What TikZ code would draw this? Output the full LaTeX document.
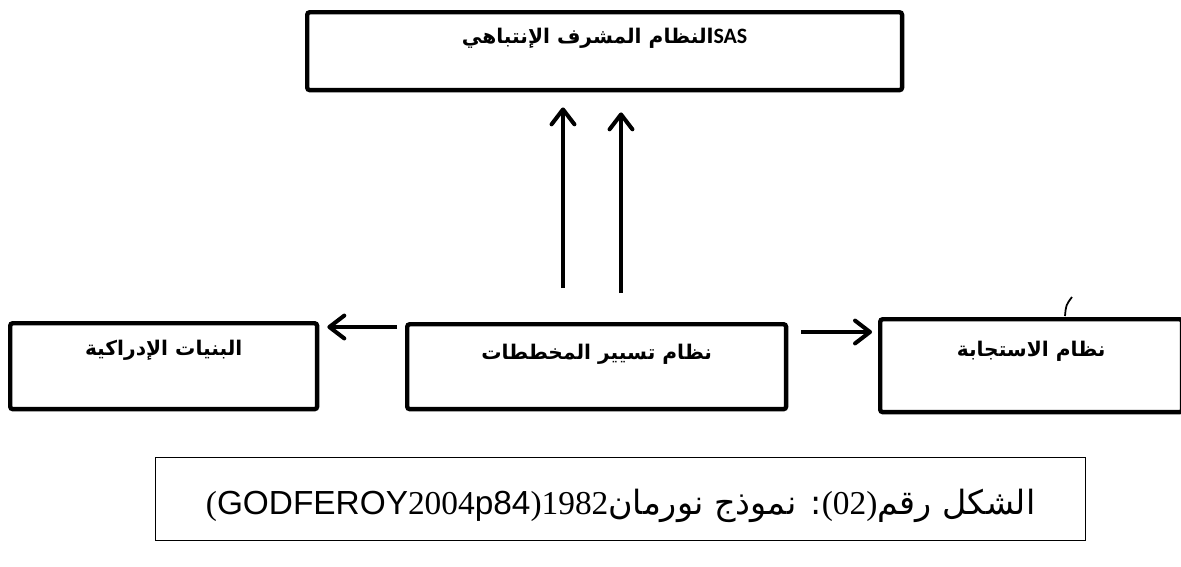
\documentclass[tikz,border=0pt]{standalone}
\usepackage{fontspec}
\setmainfont{Liberation Serif}
\newfontfamily\arabicfont[Script=Arabic]{DejaVu Sans}
\newfontfamily\sasfont{Carlito}
\newfontfamily\latinsans{Liberation Sans}
\TeXXeTstate=1
\usetikzlibrary{arrows.meta, positioning}

\begin{document}
\begin{tikzpicture}[
  x=0.02cm, y=-0.02cm,
  blk/.style={draw, line width=2.5pt, rounded corners=1.5pt, inner sep=0pt,
              anchor=north west, font=\arabicfont\bfseries\fontsize{11.5}{13}\selectfont},
  capbox/.style={draw, line width=0.8pt, inner sep=0pt, anchor=north west,
                 font=\fontsize{19}{22}\selectfont},
  arr/.style={-{Straight Barb[length=8.5pt,width=13pt,line cap=round,line join=round]},
              line width=2.3pt}
]
  \useasboundingbox (0,0) rectangle (1181,566);

  % boxes
  \node[blk, minimum width=11.9cm, text height=0.62cm, text depth=0.94cm] (sas) at (305,10)
    {\beginR\beginL{\sasfont\fontsize{12.5}{14}\selectfont SAS}\endL النظام المشرف الإنتباهي\endR};
  \node[blk, minimum width=6.14cm, text height=0.64cm, text depth=1.08cm] (percep) at (8,321)
    {\beginR البنيات الإدراكية\endR};
  \node[blk, minimum width=7.58cm, text height=0.70cm, text depth=1.00cm] (sched) at (405,322)
    {\beginR نظام تسيير المخططات\endR};
  \node[blk, minimum width=6.04cm, text height=0.74cm, text depth=1.12cm] (resp) at (878,317)
    {\beginR نظام الاستجابة\endR};

  % caption
  \node[capbox, minimum width=18.6cm, text height=1.14cm, text depth=0.52cm] (fig) at (155,457)
    {\arabicfont\beginR الشكل رقم{\rmfamily)}\beginL{\rmfamily 02}\endL{\rmfamily(}: نموذج نورمان\beginL{\rmfamily 1982}\endL{\rmfamily)}\beginL{\latinsans GODFEROY}{\rmfamily 2004}{\latinsans p84}\endL{\rmfamily(}\endR};

  % arrows
  \coordinate (up1) at (563,0);
  \coordinate (up2) at (621,0);
  \coordinate (lvl1) at (0,327);
  \coordinate (lvl2) at (0,332);
  \draw[arr, shorten <=0.68cm, shorten >=0.30cm] (sched.north -| up1) -- (sas.south -| up1);
  \draw[arr, shorten <=0.58cm, shorten >=0.40cm] (sched.north -| up2) -- (sas.south -| up2);
  \draw[arr, shorten <=0.16cm, shorten >=0.16cm] (sched.west |- lvl1) -- (percep.east |- lvl1);
  \draw[arr, shorten <=0.26cm, shorten >=0.12cm] (sched.east |- lvl2) -- (resp.west |- lvl2);

  \draw[line width=1pt] (1065,316) .. controls (1066,305) .. (1072,297);
\end{tikzpicture}
\end{document}
